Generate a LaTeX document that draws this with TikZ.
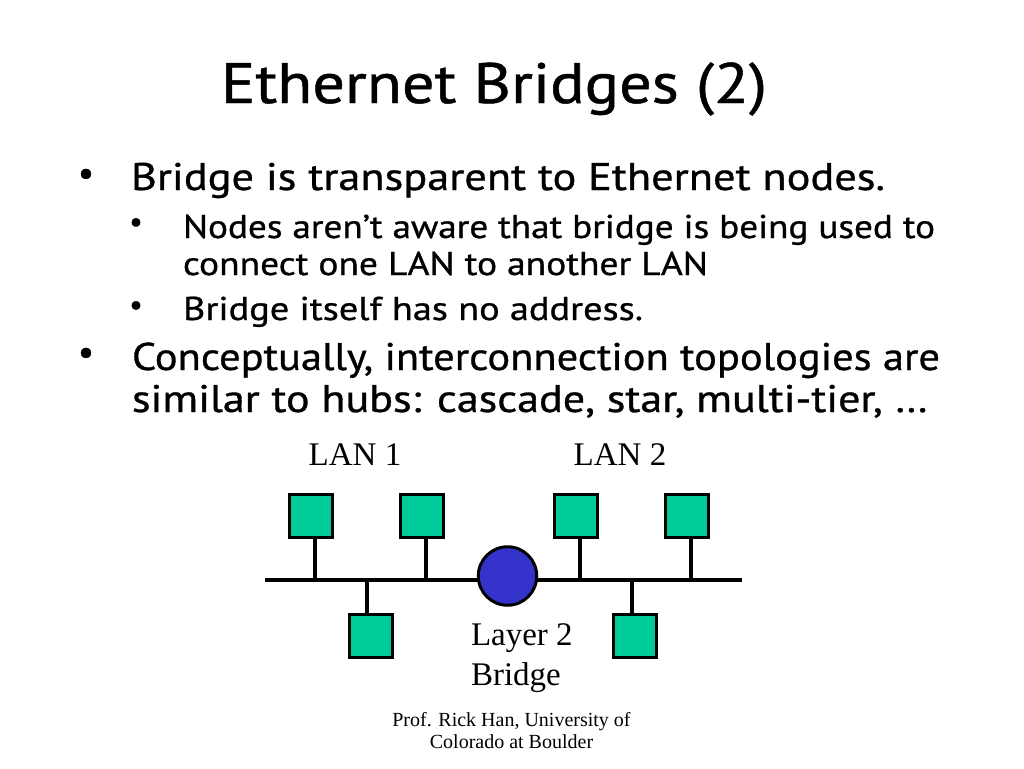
\documentclass[tikz,border=0pt]{standalone}
\usepackage{fontspec}
\usepackage{graphicx}
\setmainfont{Liberation Serif}
\newfontfamily\slidefont[FakeBold=0.8]{PT Sans}
\definecolor{stationgreen}{RGB}{0,204,153}
\definecolor{bridgeblue}{RGB}{51,51,204}
\newcommand\fitline[2]{\resizebox{#1}{\height}{#2}}
\tikzset{
  txt/.style={anchor=base west, inner sep=0pt, outer sep=0pt},
  bul/.style={anchor=center, inner sep=0pt, outer sep=0pt},
  serif/.style={inner sep=0pt, outer sep=0pt},
  station/.style={draw=black, line width=3pt, fill=stationgreen, minimum size=43pt, inner sep=0pt},
  bridgenode/.style={circle, draw=black, line width=3pt, fill=bridgeblue, minimum size=58.5pt, inner sep=0pt},
  wire/.style={line width=4pt, draw=black}
}
\begin{document}
\begin{tikzpicture}[x=1pt,y=-1pt]
\fill[white] (0,0) rectangle (1024,768);
\useasboundingbox (0,0) rectangle (1024,768);

% title
\node[txt] (title) at (221,103) {\fitline{546pt}{\slidefont\fontsize{57}{62}\selectfont Ethernet Bridges (2)}};

% bullets
\node[bul] (b1) at (86,177) {\slidefont\fontsize{36}{36}\selectfont •};
\node[txt] (l1) at (131,190) {\fitline{754pt}{\slidefont\fontsize{38.5}{44}\selectfont Bridge is transparent to Ethernet nodes.}};

\node[bul] (b2) at (136,225) {\slidefont\fontsize{30}{30}\selectfont •};
\node[txt] (s1) at (183,238) {\fitline{752pt}{\slidefont\fontsize{33}{38}\selectfont Nodes aren’t aware that bridge is being used to}};
\node[txt] (s2) at (183,275) {\fitline{525pt}{\slidefont\fontsize{33}{38}\selectfont connect one LAN to another LAN}};

\node[bul] (b3) at (136,308) {\slidefont\fontsize{30}{30}\selectfont •};
\node[txt] (s3) at (183,320) {\fitline{460pt}{\slidefont\fontsize{33}{38}\selectfont Bridge itself has no address.}};

\node[bul] (b4) at (86,356) {\slidefont\fontsize{36}{36}\selectfont •};
\node[txt] (l2) at (132,370) {\fitline{808pt}{\slidefont\fontsize{38.5}{44}\selectfont Conceptually, interconnection topologies are}};
\node[txt] (l3) at (132,412) {\fitline{796pt}{\slidefont\fontsize{38.5}{44}\selectfont similar to hubs: cascade, star, multi-tier, …}};

% LAN labels
\node[serif, anchor=base] (lan1) at (355,465) {\fontsize{33}{38}\selectfont LAN 1};
\node[serif, anchor=base] (lan2) at (620,465) {\fontsize{33}{38}\selectfont LAN 2};

% bus
\coordinate (busL) at (265,580);
\coordinate (busR) at (742,580);
\draw[wire] (busL) -- (busR);

% stations
\node[station] (n1) at (311,516) {};
\node[station] (n2) at (422,516) {};
\node[station] (n3) at (576,516) {};
\node[station] (n4) at (687,516) {};
\node[station] (n5) at (371,636) {};
\node[station] (n6) at (635,636) {};

% taps on the bus
\coordinate (t1) at (315,580);
\coordinate (t2) at (426,580);
\coordinate (t3) at (580,580);
\coordinate (t4) at (691,580);
\coordinate (t5) at (367,580);
\coordinate (t6) at (632,580);
\draw[wire] (t1) -- (t1 |- n1.south);
\draw[wire] (t2) -- (t2 |- n2.south);
\draw[wire] (t3) -- (t3 |- n3.south);
\draw[wire] (t4) -- (t4 |- n4.south);
\draw[wire] (t5) -- (t5 |- n5.north);
\draw[wire] (t6) -- (t6 |- n6.north);

% bridge
\node[bridgenode] (br) at (507.5,576) {};
\node[serif, anchor=base west] (brlab1) at (471,645) {\fontsize{33}{38}\selectfont Layer 2};
\node[serif, anchor=base west] (brlab2) at (471,685) {\fontsize{33}{38}\selectfont Bridge};

% footer
\node[serif, anchor=base] (f1) at (511.5,726) {\fontsize{20}{22}\selectfont Prof. Rick Han, University of};
\node[serif, anchor=base] (f2) at (511.5,748) {\fontsize{20}{22}\selectfont Colorado at Boulder};
\end{tikzpicture}
\end{document}
